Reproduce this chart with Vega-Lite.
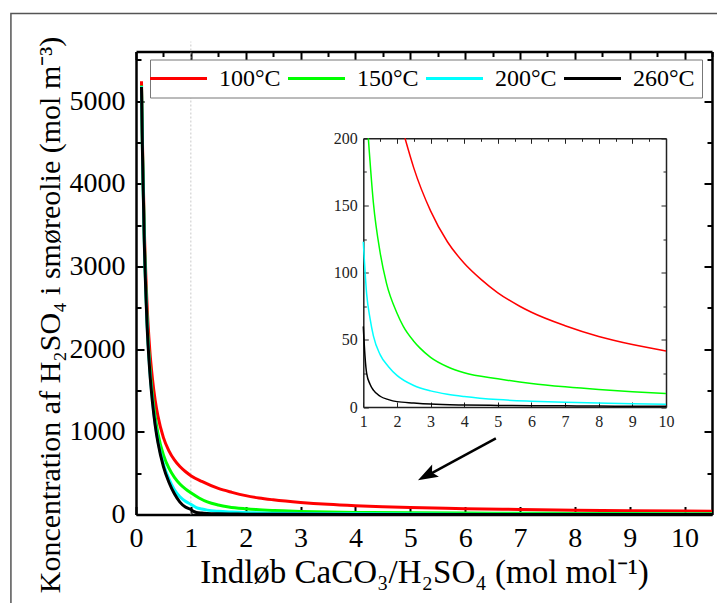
{
  "$schema": "https://vega.github.io/schema/vega-lite/v6.json",
  "width": 576,
  "height": 463,
  "autosize": {"type": "none"},
  "padding": {"left": 136, "top": 51.5, "right": 5, "bottom": 88.5},
  "background": "white",
  "config": {"view": {"stroke": null}, "font": "Liberation Serif"},
  "datasets": {
    "curves": [
      {"T":"100°C","x":0.1,"c":5240},{"T":"100°C","x":0.12,"c":4420},{"T":"100°C","x":0.15,"c":3500},{"T":"100°C","x":0.2,"c":2560},{"T":"100°C","x":0.25,"c":2000},{"T":"100°C","x":0.3,"c":1640},{"T":"100°C","x":0.35,"c":1380},{"T":"100°C","x":0.4,"c":1190},{"T":"100°C","x":0.5,"c":930},{"T":"100°C","x":0.6,"c":770},{"T":"100°C","x":0.7,"c":660},{"T":"100°C","x":0.8,"c":580},{"T":"100°C","x":0.9,"c":520},{"T":"100°C","x":1,"c":470},{"T":"100°C","x":1.2,"c":400},{"T":"100°C","x":1.5,"c":315},{"T":"100°C","x":1.75,"c":268},{"T":"100°C","x":2,"c":228},{"T":"100°C","x":2.24,"c":200},{"T":"100°C","x":2.5,"c":178},{"T":"100°C","x":3,"c":146},{"T":"100°C","x":3.5,"c":123},{"T":"100°C","x":4,"c":107},{"T":"100°C","x":4.5,"c":95},{"T":"100°C","x":5,"c":85},{"T":"100°C","x":5.65,"c":75},{"T":"100°C","x":6,"c":70.5},{"T":"100°C","x":7,"c":60.5},{"T":"100°C","x":8,"c":52.5},{"T":"100°C","x":9,"c":46.5},{"T":"100°C","x":10,"c":41.7},{"T":"100°C","x":10.5,"c":40},
      {"T":"150°C","x":0.1,"c":5190},{"T":"150°C","x":0.12,"c":4340},{"T":"150°C","x":0.15,"c":3380},{"T":"150°C","x":0.2,"c":2380},{"T":"150°C","x":0.25,"c":1810},{"T":"150°C","x":0.3,"c":1440},{"T":"150°C","x":0.35,"c":1180},{"T":"150°C","x":0.4,"c":980},{"T":"150°C","x":0.5,"c":720},{"T":"150°C","x":0.6,"c":560},{"T":"150°C","x":0.7,"c":450},{"T":"150°C","x":0.8,"c":370},{"T":"150°C","x":0.9,"c":310},{"T":"150°C","x":1,"c":262},{"T":"150°C","x":1.15,"c":200},{"T":"150°C","x":1.3,"c":152},{"T":"150°C","x":1.5,"c":115},{"T":"150°C","x":1.69,"c":92},{"T":"150°C","x":2,"c":70},{"T":"150°C","x":2.19,"c":60},{"T":"150°C","x":2.5,"c":49},{"T":"150°C","x":2.68,"c":44},{"T":"150°C","x":3,"c":37},{"T":"150°C","x":3.5,"c":30},{"T":"150°C","x":4,"c":25.5},{"T":"150°C","x":5,"c":21},{"T":"150°C","x":6,"c":17.5},{"T":"150°C","x":7,"c":15},{"T":"150°C","x":8,"c":13},{"T":"150°C","x":9,"c":11.4},{"T":"150°C","x":10,"c":10},{"T":"150°C","x":10.5,"c":9.5},
      {"T":"200°C","x":0.1,"c":5180},{"T":"200°C","x":0.12,"c":4320},{"T":"200°C","x":0.15,"c":3350},{"T":"200°C","x":0.2,"c":2340},{"T":"200°C","x":0.25,"c":1760},{"T":"200°C","x":0.3,"c":1380},{"T":"200°C","x":0.35,"c":1100},{"T":"200°C","x":0.4,"c":890},{"T":"200°C","x":0.5,"c":610},{"T":"200°C","x":0.6,"c":430},{"T":"200°C","x":0.7,"c":300},{"T":"200°C","x":0.8,"c":215},{"T":"200°C","x":0.9,"c":160},{"T":"200°C","x":1,"c":123},{"T":"200°C","x":1.1,"c":84},{"T":"200°C","x":1.2,"c":66},{"T":"200°C","x":1.3,"c":53},{"T":"200°C","x":1.5,"c":39},{"T":"200°C","x":1.75,"c":30},{"T":"200°C","x":2,"c":23.5},{"T":"200°C","x":2.5,"c":16},{"T":"200°C","x":3,"c":12},{"T":"200°C","x":3.5,"c":9.5},{"T":"200°C","x":4,"c":7.8},{"T":"200°C","x":5,"c":5.5},{"T":"200°C","x":6,"c":4.3},{"T":"200°C","x":7,"c":3.5},{"T":"200°C","x":8,"c":2.9},{"T":"200°C","x":9,"c":2.4},{"T":"200°C","x":10,"c":2},{"T":"200°C","x":10.5,"c":1.9},
      {"T":"260°C","x":0.1,"c":5170},{"T":"260°C","x":0.12,"c":4300},{"T":"260°C","x":0.15,"c":3330},{"T":"260°C","x":0.2,"c":2320},{"T":"260°C","x":0.25,"c":1740},{"T":"260°C","x":0.3,"c":1360},{"T":"260°C","x":0.35,"c":1080},{"T":"260°C","x":0.4,"c":870},{"T":"260°C","x":0.5,"c":580},{"T":"260°C","x":0.6,"c":390},{"T":"260°C","x":0.7,"c":250},{"T":"260°C","x":0.8,"c":150},{"T":"260°C","x":0.9,"c":90},{"T":"260°C","x":1,"c":60},{"T":"260°C","x":1.05,"c":38},{"T":"260°C","x":1.1,"c":25},{"T":"260°C","x":1.2,"c":17},{"T":"260°C","x":1.3,"c":12.5},{"T":"260°C","x":1.5,"c":8},{"T":"260°C","x":1.75,"c":5.5},{"T":"260°C","x":2,"c":4},{"T":"260°C","x":2.5,"c":3},{"T":"260°C","x":3,"c":2.2},{"T":"260°C","x":4,"c":1.5},{"T":"260°C","x":5,"c":1.2},{"T":"260°C","x":6,"c":1},{"T":"260°C","x":7,"c":0.85},{"T":"260°C","x":8,"c":0.7},{"T":"260°C","x":9,"c":0.6},{"T":"260°C","x":10,"c":0.55},{"T":"260°C","x":10.5,"c":0.5}
    ]
  },
  "data": {"name": "curves"},
  "layer": [
    {
      "data": {"values": [{}]},
      "mark": {"type": "rect", "fill": "white", "fillOpacity": 0, "stroke": "#555555", "strokeWidth": 1.5},
      "encoding": {
        "x": {"datum": -2.28, "type": "quantitative", "scale": {"domain": [0, 10.5], "nice": false, "zero": false}, "axis": null},
        "x2": {"datum": 10.7},
        "y": {"datum": 6060, "type": "quantitative", "scale": {"domain": [0, 5600], "nice": false, "zero": false}, "axis": null},
        "y2": {"datum": -1500}
      }
    },
    {
      "data": {"values": [{}]},
      "mark": {"type": "rule", "color": "#c8c8c8", "strokeDash": [2, 2], "strokeWidth": 1},
      "encoding": {
        "x": {"datum": 1, "type": "quantitative", "scale": {"domain": [0, 10.5], "nice": false, "zero": false},
          "axis": {"orient": "top", "labels": false, "title": null, "grid": false,
            "values": [0,0.5,1,1.5,2,2.5,3,3.5,4,4.5,5,5.5,6,6.5,7,7.5,8,8.5,9,9.5,10,10.5],
            "tickSize": {"condition": {"test": "datum.value % 1 === 0", "value": -8}, "value": -5},
            "domainColor": "black", "domainWidth": 2.5, "tickColor": "black", "tickWidth": 2}},
        "y": {"datum": 0, "type": "quantitative", "scale": {"domain": [0, 5600], "nice": false, "zero": false},
          "axis": {"orient": "right", "labels": false, "title": null, "grid": false,
            "values": [0,500,1000,1500,2000,2500,3000,3500,4000,4500,5000,5500],
            "tickSize": {"condition": {"test": "datum.value % 1000 === 0", "value": -8}, "value": -5},
            "domainColor": "black", "domainWidth": 2.5, "tickColor": "black", "tickWidth": 2}},
        "y2": {"datum": 5720}
      }
    },
    {
      "mark": {"type": "line", "strokeWidth": 3, "interpolate": "monotone"},
      "encoding": {
        "x": {"field": "x", "type": "quantitative", "scale": {"domain": [0, 10.5], "nice": false, "zero": false},
          "axis": {"orient": "bottom", "title": "Indløb CaCO₃/H₂SO₄ (mol mol⁻¹)", "grid": false, "format": "d",
            "values": [0,0.5,1,1.5,2,2.5,3,3.5,4,4.5,5,5.5,6,6.5,7,7.5,8,8.5,9,9.5,10,10.5],
            "labelExpr": "datum.value % 1 === 0 ? datum.label : ''",
            "tickSize": {"condition": {"test": "datum.value % 1 === 0", "value": -8}, "value": -5},
            "labelPadding": 18, "labelFlush": false, "labelOverlap": false, "labelBound": false,
            "labelFont": "Liberation Serif", "labelFontSize": 28, "labelColor": "black",
            "titleFont": "Liberation Serif", "titleFontSize": 33, "titleFontWeight": "normal", "titleColor": "black", "titlePadding": 4,
            "domainColor": "black", "domainWidth": 2.5, "tickColor": "black", "tickWidth": 2}},
        "y": {"field": "c", "type": "quantitative", "scale": {"domain": [0, 5600], "nice": false, "zero": false},
          "axis": {"orient": "left", "title": "Koncentration af H₂SO₄ i smøreolie (mol m⁻³)", "grid": false, "format": "d",
            "values": [0,500,1000,1500,2000,2500,3000,3500,4000,4500,5000,5500],
            "labelExpr": "datum.value % 1000 === 0 ? datum.label : ''",
            "tickSize": {"condition": {"test": "datum.value % 1000 === 0", "value": -8}, "value": -5},
            "labelPadding": 19, "labelFlush": false, "labelOverlap": false, "labelBound": false,
            "labelFont": "Liberation Serif", "labelFontSize": 28, "labelColor": "black",
            "titleFont": "Liberation Serif", "titleFontSize": 30, "titleFontWeight": "normal", "titleColor": "black", "titlePadding": 4, "titleY": 263,
            "domainColor": "black", "domainWidth": 2.5, "tickColor": "black", "tickWidth": 2}},
        "color": {"field": "T", "type": "nominal",
          "scale": {"domain": ["100°C", "150°C", "200°C", "260°C"], "range": ["#ff0000", "#00ff00", "#00ffff", "#000000"]},
          "legend": {"orient": "none", "legendX": 14, "legendY": 8, "direction": "horizontal", "title": null,
            "symbolType": "M-2.85,0H2.85", "symbolSize": 400, "symbolStrokeWidth": 3, "symbolOffset": 9.5,
            "labelOffset": 28.5, "labelFont": "Liberation Serif", "labelFontSize": 24, "labelColor": "black",
            "columnPadding": 1, "padding": 7, "strokeColor": "#777777", "fillColor": "white"}}
      }
    },
    {
      "data": {"values": [{}]},
      "mark": {"type": "rule", "strokeWidth": 2.5, "color": "black"},
      "encoding": {
        "x": {"datum": 6.56, "type": "quantitative", "scale": {"domain": [0, 10.5], "nice": false, "zero": false}, "axis": null},
        "x2": {"datum": 5.35},
        "y": {"datum": 921, "type": "quantitative", "scale": {"domain": [0, 5600], "nice": false, "zero": false}, "axis": null},
        "y2": {"datum": 486}
      }
    },
    {
      "data": {"values": [{}]},
      "mark": {"type": "point", "shape": "M0,0L0.35,1L0,0.8L-0.35,1Z", "filled": true, "color": "black", "opacity": 1, "size": 1600, "angle": 241.4},
      "encoding": {
        "x": {"datum": 5.14, "type": "quantitative", "scale": {"domain": [0, 10.5], "nice": false, "zero": false}, "axis": null},
        "y": {"datum": 415, "type": "quantitative", "scale": {"domain": [0, 5600], "nice": false, "zero": false}, "axis": null}
      }
    },
    {
      "transform": [{"filter": "datum.x >= 1 && datum.x <= 10 && datum.c <= 200"}],
      "mark": {"type": "line", "strokeWidth": 1.5, "interpolate": "monotone"},
      "encoding": {
        "x": {"field": "x", "type": "quantitative", "scale": {"domain": [1, 10], "range": [227.3, 530], "nice": false, "zero": false},
          "axis": {"orient": "bottom", "offset": -107.5, "title": null, "grid": false, "format": "d",
            "values": [1,1.5,2,2.5,3,3.5,4,4.5,5,5.5,6,6.5,7,7.5,8,8.5,9,9.5,10],
            "labelExpr": "datum.value % 1 === 0 ? datum.label : ''",
            "tickSize": {"condition": {"test": "datum.value % 1 === 0", "value": -5}, "value": -3},
            "labelPadding": 11, "labelFlush": false, "labelOverlap": false, "labelBound": false,
            "labelFont": "Liberation Serif", "labelFontSize": 16, "labelColor": "#222222",
            "domainColor": "#222222", "domainWidth": 1.5, "tickColor": "#222222", "tickWidth": 1}},
        "y": {"field": "c", "type": "quantitative", "scale": {"domain": [0, 200], "range": [355.5, 86.8], "nice": false, "zero": false},
          "axis": {"orient": "left", "offset": -227.3, "title": null, "grid": false, "format": "d",
            "values": [0,25,50,75,100,125,150,175,200],
            "labelExpr": "datum.value % 50 === 0 ? datum.label : ''",
            "tickSize": {"condition": {"test": "datum.value % 50 === 0", "value": -5}, "value": -3},
            "labelPadding": 11, "labelFlush": false, "labelOverlap": false, "labelBound": false,
            "labelFont": "Liberation Serif", "labelFontSize": 16, "labelColor": "#222222",
            "domainColor": "#222222", "domainWidth": 1.5, "tickColor": "#222222", "tickWidth": 1}},
        "color": {"field": "T", "type": "nominal", "legend": null}
      }
    },
    {
      "transform": [{"filter": "datum.x >= 1 && datum.x <= 10 && datum.c <= 200"}],
      "mark": {"type": "point", "opacity": 0},
      "encoding": {
        "x": {"field": "x", "type": "quantitative", "scale": {"domain": [1, 10], "range": [227.3, 530], "nice": false, "zero": false},
          "axis": {"orient": "top", "offset": -86.8, "title": null, "grid": false, "labels": false,
            "values": [1,1.5,2,2.5,3,3.5,4,4.5,5,5.5,6,6.5,7,7.5,8,8.5,9,9.5,10],
            "tickSize": {"condition": {"test": "datum.value % 1 === 0", "value": -5}, "value": -3},
            "domainColor": "#222222", "domainWidth": 1.5, "tickColor": "#222222", "tickWidth": 1}},
        "y": {"field": "c", "type": "quantitative", "scale": {"domain": [0, 200], "range": [355.5, 86.8], "nice": false, "zero": false},
          "axis": {"orient": "right", "offset": -46, "title": null, "grid": false, "labels": false,
            "values": [0,25,50,75,100,125,150,175,200],
            "tickSize": {"condition": {"test": "datum.value % 50 === 0", "value": -5}, "value": -3},
            "domainColor": "#222222", "domainWidth": 1.5, "tickColor": "#222222", "tickWidth": 1}}
      }
    }
  ],
  "resolve": {
    "scale": {"x": "independent", "y": "independent"},
    "axis": {"x": "independent", "y": "independent"}
  }
}
